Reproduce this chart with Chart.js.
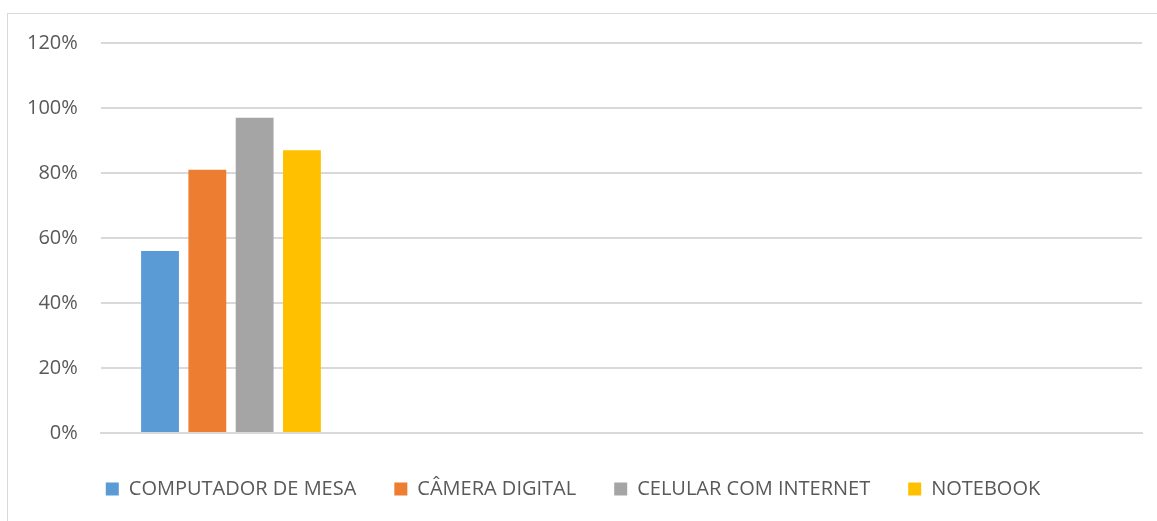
<!DOCTYPE html>
<html>
<head>
<meta charset="utf-8">
<script src="https://cdn.jsdelivr.net/npm/chart.js@4.4.1/dist/chart.umd.min.js"></script>
<style>
    html, body { margin: 0; padding: 0; background: #ffffff; }
    #wrap { position: relative; width: 1157px; height: 521px; }
</style>
</head>
<body>
<div id="wrap"><canvas id="equipChart"></canvas></div>
<script>
// Share of respondents owning each device
const categories = ["", "", "", ""];
const computadorMesa = [0.56, null, null, null];
const cameraDigital = [0.81, null, null, null];
const celularInternet = [0.97, null, null, null];
const notebook = [0.87, null, null, null];
const yTicks = [0, 0.2, 0.4, 0.6, 0.8, 1.0, 1.2];

const labelColor = "#595959";
const gridColor = "#d9d9d9";
const fontFamily = "'Open Sans', sans-serif";

// light frame around the whole chart
const framePlugin = {
    id: "frame",
    beforeDraw(chart) {
        const ctx = chart.ctx;
        ctx.save();
        ctx.strokeStyle = gridColor;
        ctx.lineWidth = 1;
        ctx.strokeRect(7.5, 13.5, 1300, 700);
        ctx.restore();
    }
};

function series(label, values, color) {
    return {
        label: label,
        data: values,
        backgroundColor: color,
        borderWidth: 0,
        categoryPercentage: 0.727,
        barPercentage: 0.80
    };
}

new Chart(document.getElementById("equipChart"), {
    type: "bar",
    data: {
        labels: categories,
        datasets: [
            series("COMPUTADOR DE MESA", computadorMesa, "#5b9bd5"),
            series("CÂMERA DIGITAL", cameraDigital, "#ed7d31"),
            series("CELULAR COM INTERNET", celularInternet, "#a5a5a5"),
            series("NOTEBOOK", notebook, "#ffc000")
        ]
    },
    options: {
        responsive: true,
        maintainAspectRatio: false,
        animation: false,
        layout: {
            padding: { left: 4, right: 15, top: 43, bottom: 12 }
        },
        plugins: {
            legend: {
                position: "bottom",
                labels: {
                    boxWidth: 13,
                    boxHeight: 13,
                    padding: 38,
                    color: labelColor,
                    font: { family: fontFamily, size: 20 }
                }
            },
            tooltip: { enabled: false }
        },
        scales: {
            x: {
                grid: { display: false },
                border: { color: gridColor, width: 2 },
                ticks: { display: false }
            },
            y: {
                min: 0,
                max: 1.2,
                afterBuildTicks(axis) {
                    axis.ticks = yTicks.map(v => ({ value: v }));
                },
                grid: { color: gridColor, lineWidth: 2, drawTicks: false },
                border: { display: false },
                ticks: {
                    padding: 23,
                    color: labelColor,
                    font: { family: fontFamily, size: 20 },
                    callback: v => Math.round(v * 100) + "%"
                }
            }
        }
    },
    plugins: [framePlugin]
});
</script>
</body>
</html>
